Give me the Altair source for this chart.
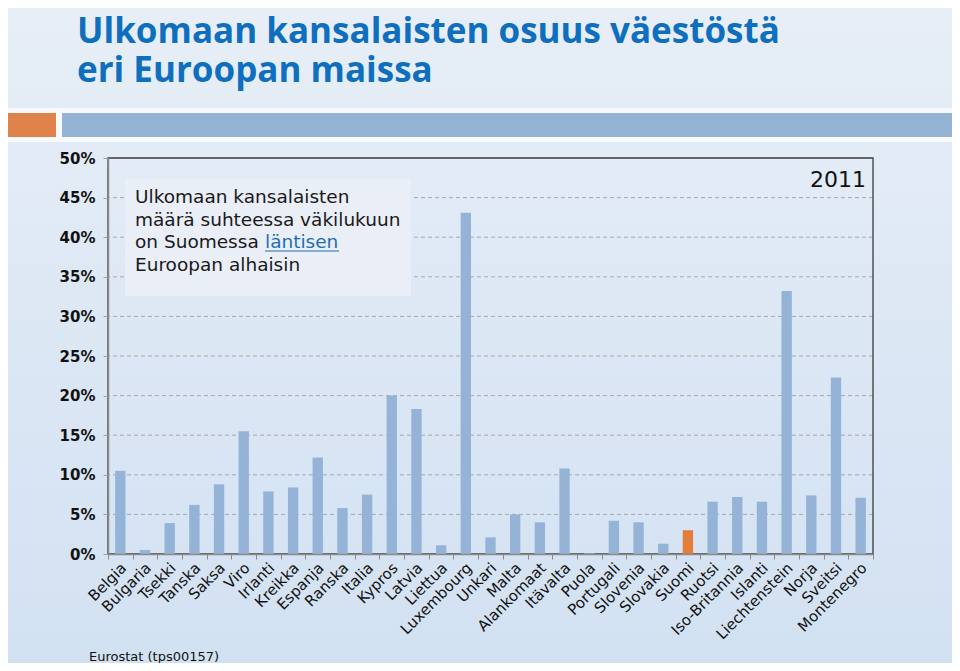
import altair as alt
import pandas as pd

# ---- data ----
maat = ["Belgia", "Bulgaria", "Tsekki", "Tanska", "Saksa", "Viro", "Irlanti", "Kreikka",
        "Espanja", "Ranska", "Italia", "Kypros", "Latvia", "Liettua", "Luxembourg", "Unkari",
        "Malta", "Alankomaat", "Itävalta", "Puola", "Portugali", "Slovenia", "Slovakia",
        "Suomi", "Ruotsi", "Iso-Britannia", "Islanti", "Liechtenstein", "Norja", "Sveitsi",
        "Montenegro"]
osuus = [10.5, 0.5, 3.9, 6.2, 8.8, 15.5, 7.9, 8.4,
         12.2, 5.8, 7.5, 20.0, 18.3, 1.1, 43.1, 2.1,
         5.0, 4.0, 10.8, 0.1, 4.2, 4.0, 1.3,
         3.0, 6.6, 7.2, 6.6, 33.2, 7.4, 22.3,
         7.1]
y_ticks = [0, 5, 10, 15, 20, 25, 30, 35, 40, 45, 50]
grid_levels = [5, 10, 15, 20, 25, 30, 35, 40, 45]
korostettu = "Suomi"

otsikko = ["Ulkomaan kansalaisten osuus väestöstä", "eri Euroopan maissa"]
laatikko_rivit = ["Ulkomaan kansalaisten", "määrä suhteessa väkilukuun", "on Suomessa", "läntisen", "Euroopan alhaisin"]
vuosi = "2011"
lahde = "Eurostat (tps00157)"

df = pd.DataFrame({"maa": maat, "osuus": osuus})
grid_df = pd.DataFrame({"osuus": grid_levels})
one = pd.DataFrame({"k": [0]})

W, H = 765, 396
BLUE = "#95b3d7"
ORANGE = "#e47c3c"
TITLE_BLUE = "#0f6fbf"

def deco():
    return alt.Chart(one)

y_axis = alt.Axis(values=y_ticks, labelExpr="datum.value + '%'",
                  labelFont="DejaVu Sans", labelFontWeight="bold", labelFontSize=15,
                  labelColor="#111111", labelPadding=8,
                  domainColor="#8a8a8a", domainWidth=1.5,
                  tickColor="#a0a0a0", tickSize=5, grid=False, zindex=1)
y_scale = alt.Scale(domain=[0, 50])

# background gradient covering the whole canvas
bg = deco().mark_rect(
    fill=alt.Gradient(gradient="linear",
                      stops=[alt.GradientStop(color="#e7eef7", offset=0),
                             alt.GradientStop(color="#d2e1f2", offset=1)],
                      x1=0, x2=0, y1=0, y2=1)
).encode(x=alt.value(-100), x2=alt.value(W + 79), y=alt.value(-150), y2=alt.value(H + 109))

stripe = deco().mark_rect(fill="#f7f9fc").encode(
    x=alt.value(-100), x2=alt.value(W + 79), y=alt.value(-50), y2=alt.value(-16))
band_orange = deco().mark_rect(fill="#e0834a").encode(
    x=alt.value(-100), x2=alt.value(-52), y=alt.value(-45), y2=alt.value(-21))
band_blue = deco().mark_rect(fill="#95b4d3").encode(
    x=alt.value(-46), x2=alt.value(W + 79), y=alt.value(-45), y2=alt.value(-21))

title_style = dict(font="Open Sans", fontWeight="bold", fontSize=35, color=TITLE_BLUE,
                   align="left", baseline="alphabetic")
title1 = deco().mark_text(**title_style).encode(
    x=alt.value(-31), y=alt.value(-115), text=alt.value(otsikko[0]))
title2 = deco().mark_text(**title_style).encode(
    x=alt.value(-31), y=alt.value(-76), text=alt.value(otsikko[1]))

grid = alt.Chart(grid_df).mark_rule(color="#a8a8a8", strokeDash=[4, 3], strokeWidth=1).encode(
    y=alt.Y("osuus:Q", scale=y_scale, axis=y_axis, title=None)
)

box = deco().mark_rect(fill="#e9eef7").encode(
    x=alt.value(17), x2=alt.value(303), y=alt.value(21), y2=alt.value(138))

FS = 18.5
box_font = dict(font="DejaVu Sans", fontSize=FS, align="left", baseline="alphabetic")
t1 = deco().mark_text(color="#1a1a1a", **box_font).encode(
    x=alt.value(27), y=alt.value(45), text=alt.value(laatikko_rivit[0]))
t2 = deco().mark_text(color="#1a1a1a", **box_font).encode(
    x=alt.value(27), y=alt.value(67.5), text=alt.value(laatikko_rivit[1]))
t3 = deco().mark_text(color="#1a1a1a", **box_font).encode(
    x=alt.value(27), y=alt.value(90), text=alt.value(laatikko_rivit[2]))
t3b = deco().mark_text(color="#1f6fb5", **box_font).encode(
    x=alt.value(157), y=alt.value(90), text=alt.value(laatikko_rivit[3]))
underline = deco().mark_rule(color="#1f6fb5", strokeWidth=1).encode(
    x=alt.value(157), x2=alt.value(231), y=alt.value(93), y2=alt.value(93))
t4 = deco().mark_text(color="#1a1a1a", **box_font).encode(
    x=alt.value(27), y=alt.value(112.5), text=alt.value(laatikko_rivit[4]))

bars = alt.Chart(df).mark_bar(width=alt.RelativeBandSize(0.42)).encode(
    x=alt.X("maa:N", sort=None, title=None,
            scale=alt.Scale(paddingInner=0, paddingOuter=0),
            axis=alt.Axis(tickBand="extent", labelAngle=-45, labelAlign="right",
                          labelBaseline="middle", labelFont="DejaVu Sans", labelFontSize=15,
                          labelColor="#111111", labelPadding=6, labelOffset=3,
                          labelOverlap=False, labelLimit=0, labelBound=False,
                          domainColor="#8a8a8a", domainWidth=1.5,
                          tickColor="#8a8a8a", tickSize=5, grid=False, zindex=1)),
    y=alt.Y("osuus:Q", title=None, scale=y_scale, axis=y_axis),
    color=alt.condition(alt.datum.maa == korostettu, alt.value(ORANGE), alt.value(BLUE)),
)

frame = deco().mark_rect(fill="transparent", stroke="#3a3a3a", strokeWidth=1.3).encode(
    x=alt.value(0), x2=alt.value(W), y=alt.value(0), y2=alt.value(H))

year = deco().mark_text(font="DejaVu Sans", fontSize=22, color="#111111",
                        align="right", baseline="alphabetic").encode(
    x=alt.value(758), y=alt.value(29), text=alt.value(vuosi))

source = deco().mark_text(font="DejaVu Sans", fontSize=13, color="#111111",
                          align="left", baseline="alphabetic").encode(
    x=alt.value(-19), y=alt.value(503), text=alt.value(lahde))

chart = alt.layer(
    bg, stripe, band_orange, band_blue, title1, title2, grid, box,
    t1, t2, t3, t3b, underline, t4, frame, bars, year, source
).properties(
    width=W, height=H,
    padding={"left": 100, "top": 150, "right": 79, "bottom": 109},
    autosize=alt.AutoSizeParams(type="none"),
).configure_view(stroke=None)

chart.save("out.html", embed_options={"renderer": "svg", "actions": False})
